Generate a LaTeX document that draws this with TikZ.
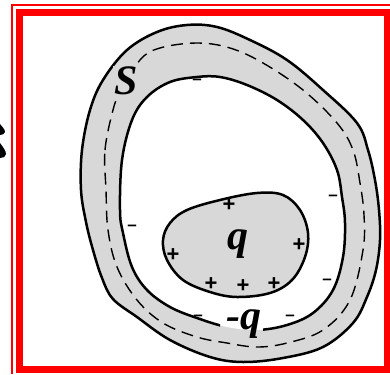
\documentclass[tikz,border=0pt]{standalone}
\usepackage{fontspec}
\setmainfont{Liberation Serif}
\newfontfamily\signfont{Liberation Sans}
\begin{document}
\begin{tikzpicture}[x=1pt,y=-1pt,
  bodyline/.style={line width=2.5pt, line join=round},
  shellfill/.style={fill=shellgray},
  dashline/.style={line width=1.4pt, dash pattern=on 12pt off 7pt},
  bigletter/.style={font=\fontsize{42}{42}\selectfont\bfseries\itshape, inner sep=0pt},
  plussign/.style={font=\signfont\fontsize{22}{22}\selectfont\bfseries, inner sep=0pt},
  minussign/.style={font=\signfont\fontsize{17}{17}\selectfont\bfseries, inner sep=0pt}]
\definecolor{shellgray}{HTML}{D8D8D8}
\definecolor{framered}{HTML}{FF0000}
\useasboundingbox (0,0) rectangle (390,374);
% frame
\draw[framered, line width=1.6pt] (12,374) -- (12,4.8) -- (390,4.8);
\draw[framered, line width=7pt] (19.7,12.5) rectangle (387.5,369.5);
% fragment at left edge
\fill (0,124) .. controls (2,127) and (5,129) .. (5,132) .. controls (5,134) and (2,135) .. (0,135) -- cycle;
\fill (0,143) .. controls (3,147) and (6,151) .. (6,154) .. controls (6,157) and (3,158) .. (0,158) -- cycle;
% outer shell
\draw[bodyline, shellfill] plot[smooth cycle, tension=0.6] coordinates {
 (81,190) (82,150) (90,110) (103,80) (127,50) (157,32) (187,25) (217,27) (250,40)
 (287,60) (323,90) (357,123) (368,150) (375,180) (379,210) (380,240) (376,270)
 (367,297) (353,323) (323,347) (283,358) (243,362) (210,357) (170,340) (137,317)
 (113,299) (102,278) (93,250) (86,222)};
% inner cavity: fill
\fill[white] plot[smooth cycle, tension=0.6] coordinates {
 (120,210) (122,160) (132,120) (147,97) (170,82) (197,77) (220,77) (247,85)
 (277,100) (303,120) (323,143) (337,170) (342,197) (345,223) (343,257) (333,290)
 (313,313) (287,325) (257,330) (227,327) (197,318) (170,307) (147,290) (132,267)
 (123,233)};
% inner cavity: outline, broken behind the label -q
\begin{scope}[even odd rule]
\clip (0,0) rectangle (390,374) (220,318) rectangle (263,336);
\draw[bodyline] plot[smooth cycle, tension=0.6] coordinates {
 (120,210) (122,160) (132,120) (147,97) (170,82) (197,77) (220,77) (247,85)
 (277,100) (303,120) (323,143) (337,170) (342,197) (345,223) (343,257) (333,290)
 (313,313) (287,325) (257,330) (227,327) (197,318) (170,307) (147,290) (132,267)
 (123,233)};
\end{scope}
% gaussian surface
\draw[dashline] plot[smooth cycle, tension=0.6] coordinates {
 (106,190) (105,150) (113,110) (120,93) (140,60) (160,48) (197,43) (230,48)
 (263,63) (303,90) (337,123) (353,150) (360,183) (364,215) (363,250) (350,300)
 (323,330) (287,343) (257,347) (227,343) (197,337) (163,323) (137,300)
 (117,267) (108,230)};
% inner conductor
\draw[bodyline, shellfill] plot[smooth cycle, tension=0.6] coordinates {
 (163,240) (170,223) (187,210) (220,200) (257,193) (283,195) (300,210) (308,233)
 (305,257) (292,280) (270,293) (237,297) (210,292) (183,280) (167,260)};
% labels
\node[bigletter, fill=shellgray, inner sep=1pt] (S) at (126,81) {S};
\node[bigletter] (q) at (238,244) {q};
\node[bigletter] (mq) at (244,324) {-q};
% charges
\node[plussign] (p1) at (229,205) {+};
\node[plussign] (p2) at (173,255) {+};
\node[plussign] (p3) at (299,245) {+};
\node[plussign] (p4) at (211,284) {+};
\node[plussign] (p5) at (243,286) {+};
\node[plussign] (p6) at (274,284) {+};
\node[minussign] (m1) at (197,82) {\textendash};
\node[minussign] (m2) at (132,228) {\textendash};
\node[minussign] (m3) at (333,198) {\textendash};
\node[minussign] (m4) at (327,282) {\textendash};
\node[minussign] (m5) at (198,318) {\textendash};
\node[minussign] (m6) at (290,318) {\textendash};
\end{tikzpicture}
\end{document}
